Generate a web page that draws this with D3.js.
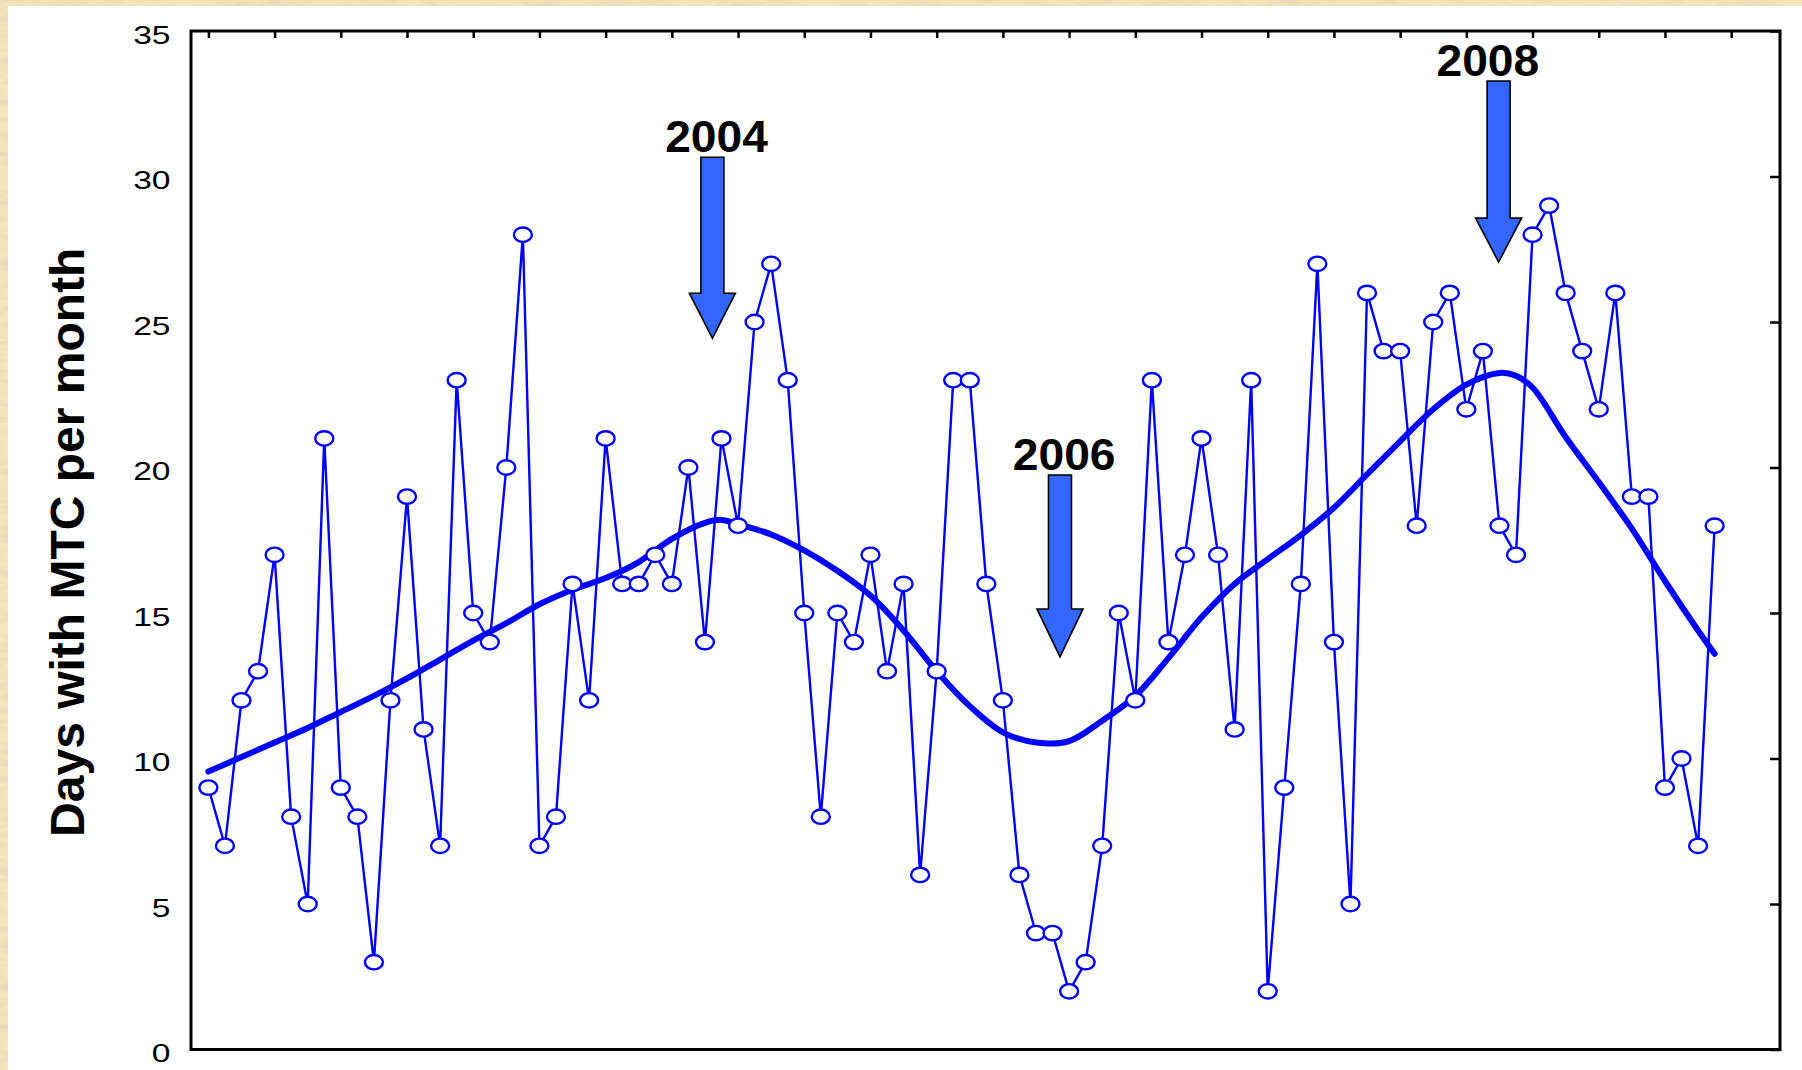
<!DOCTYPE html>
<html>
<head>
<meta charset="utf-8">
<script src="https://cdn.jsdelivr.net/npm/d3@7"></script>
<style>
  html, body { margin: 0; padding: 0; background: #f4e4bd; }
  svg { display: block; }
</style>
</head>
<body>
<div id="chart"></div>
<script>
// monthly counts, one value per month
const mtcDays = [9, 7, 12, 13, 17, 8, 5, 21, 9, 8,
  3, 12, 19, 11, 7, 23, 15, 14, 20, 28,
  7, 8, 16, 12, 21, 16, 16, 17, 16, 20,
  14, 21, 18, 25, 27, 23, 15, 8, 15, 14,
  17, 13, 16, 6, 13, 23, 23, 16, 12, 6,
  4, 4, 2, 3, 7, 15, 12, 23, 14, 17,
  21, 17, 11, 23, 2, 9, 16, 27, 14, 5,
  26, 24, 24, 18, 25, 26, 22, 24, 18, 17,
  28, 29, 26, 24, 22, 26, 19, 19, 9, 10,
  7, 18];

// smoothed trend (month index, value)
const trendIdx = [0, 2, 4, 6, 8, 10, 12, 14, 16, 18, 20, 22, 24, 26, 28, 30, 31, 32, 34, 36,
  38, 40, 42, 44, 46, 48, 50, 52, 54, 56, 58, 60, 62, 64, 66, 68, 70, 72, 74, 76,
  78, 79, 80, 82, 84, 86, 88, 90, 91];
const trendVal = [9.55, 10.05, 10.55, 11.05, 11.6, 12.15, 12.75, 13.4, 14.05, 14.65, 15.3, 15.8, 16.2, 16.75, 17.55, 18.1, 18.2, 18.05, 17.7, 17.15,
  16.45, 15.6, 14.4, 13.0, 11.8, 10.9, 10.55, 10.6, 11.3, 12.15, 13.45, 14.85, 16.0, 16.85, 17.68, 18.62, 19.76, 20.9, 22.0, 22.85,
  23.25, 23.15, 22.75, 21.05, 19.5, 17.9, 16.1, 14.4, 13.6];

const yTicks = [0, 5, 10, 15, 20, 25, 30, 35];
const xTicks = d3.range(0, 93, 4);

// annotation arrows
const years = ['2004', '2006', '2008'];
const arrowIdx = [30.45, 51.45, 77.95];
const labelIdx = [30.7, 51.7, 77.3];
const arrowTop = [30.66, 19.74, 33.28];
const arrowHead = [25.99, 15.14, 28.57];
const arrowTip = [24.44, 13.49, 27.06];

const W = 1802, H = 1070;
const svg = d3.select('#chart').append('svg')
    .attr('width', W)
    .attr('height', H);

// parchment background
const defs = svg.append('defs');
const f = defs.append('filter').attr('id', 'parch')
    .attr('x', 0).attr('y', 0).attr('width', '100%').attr('height', '100%');
f.append('feTurbulence')
    .attr('type', 'fractalNoise')
    .attr('baseFrequency', '0.03 0.12')
    .attr('numOctaves', 4)
    .attr('seed', 7);
f.append('feColorMatrix')
    .attr('type', 'matrix')
    .attr('values', '0 0 0 0 0.80  0 0 0 0 0.68  0 0 0 0 0.45  1.9 0 0 0 -0.78');

svg.append('rect').attr('width', W).attr('height', H).attr('fill', '#f5e5be');
svg.append('rect').attr('width', W).attr('height', H).attr('filter', 'url(#parch)');
svg.append('rect')
    .attr('x', 8).attr('y', 6)
    .attr('width', W - 8).attr('height', H - 6)
    .attr('fill', '#ffffff');

const x = d3.scaleLinear().domain([-1.05, 94.95]).range([191, 1780]);
const y = d3.scaleLinear().domain([0, 35]).range([1049.5, 31]);

const font = "'Liberation Sans', Arial, Helvetica, sans-serif";

// top ticks (inward)
svg.append('g')
    .attr('transform', `translate(0,${y(35)})`)
    .call(d3.axisTop(x).tickValues(xTicks).tickSize(-7).tickFormat(''))
    .call(g => g.select('.domain').remove())
    .call(g => g.selectAll('line').attr('stroke', '#000').attr('stroke-width', 2.5));

// right ticks (inward)
svg.append('g')
    .attr('transform', `translate(${x(94.95)},0)`)
    .call(d3.axisRight(y).tickValues(yTicks).tickSize(-10).tickFormat(''))
    .call(g => g.select('.domain').remove())
    .call(g => g.selectAll('line').attr('stroke', '#000').attr('stroke-width', 2.5));

// left labels
const sx = 1.29;
svg.append('g')
    .attr('transform', `translate(170.5,0)`)
    .call(d3.axisLeft(y).tickValues(yTicks).tickSize(0).tickPadding(0))
    .call(g => g.select('.domain').remove())
    .call(g => g.selectAll('text')
        .attr('x', 0)
        .attr('dy', '0.47em')
        .attr('transform', `scale(${sx},1)`)
        .attr('fill', '#000')
        .style('font-family', font)
        .style('font-size', '26px'));

// y axis title
svg.append('text')
    .attr('transform', `translate(84,${(y(0) + y(35)) / 2 + 2}) rotate(-90)`)
    .attr('text-anchor', 'middle')
    .style('font-family', font)
    .style('font-weight', 'bold')
    .style('font-size', '48px')
    .text('Days with MTC per month');

// raw series
const line = d3.line()
    .x((d, i) => x(i))
    .y(d => y(d));

svg.append('path')
    .attr('d', line(mtcDays))
    .attr('fill', 'none')
    .attr('stroke', '#0000ff')
    .attr('stroke-width', 2.4)
    .attr('stroke-linejoin', 'miter');

// smooth trend
const trend = d3.line()
    .x((d, i) => x(trendIdx[i]))
    .y(d => y(d))
    .curve(d3.curveCatmullRom);

svg.append('path')
    .attr('d', trend(trendVal))
    .attr('fill', 'none')
    .attr('stroke', '#0000ff')
    .attr('stroke-width', 6)
    .attr('stroke-linecap', 'round');

// markers
svg.append('g')
  .selectAll('ellipse')
  .data(mtcDays)
  .join('ellipse')
    .attr('cx', (d, i) => x(i))
    .attr('cy', d => y(d))
    .attr('rx', 9)
    .attr('ry', 7.2)
    .attr('fill', '#fff')
    .attr('stroke', '#0000ff')
    .attr('stroke-width', 2.4);

// arrows + year labels
const shaftW = 23, headW = 46;
const ann = svg.append('g');
years.forEach((yr, i) => {
  const cx = x(arrowIdx[i]);
  const t = y(arrowTop[i]), h = y(arrowHead[i]), p = y(arrowTip[i]);
  const pts = [
    [cx - shaftW / 2, t], [cx + shaftW / 2, t], [cx + shaftW / 2, h],
    [cx + headW / 2, h], [cx, p], [cx - headW / 2, h], [cx - shaftW / 2, h]
  ];
  ann.append('path')
      .attr('d', d3.line()(pts) + 'Z')
      .attr('fill', '#3366ff')
      .attr('stroke', '#000')
      .attr('stroke-width', 1.6)
      .attr('stroke-linejoin', 'miter');
  ann.append('text')
      .attr('transform', `translate(${x(labelIdx[i])},${t - 5.5}) scale(1.05,1)`)
      .attr('text-anchor', 'middle')
      .style('font-family', font)
      .style('font-weight', 'bold')
      .style('font-size', '44px')
      .text(yr);
});

// frame
svg.append('rect')
    .attr('x', x(-1.05)).attr('y', y(35))
    .attr('width', x(94.95) - x(-1.05))
    .attr('height', y(0) - y(35))
    .attr('fill', 'none')
    .attr('stroke', '#000')
    .attr('stroke-width', 3);
</script>
</body>
</html>
